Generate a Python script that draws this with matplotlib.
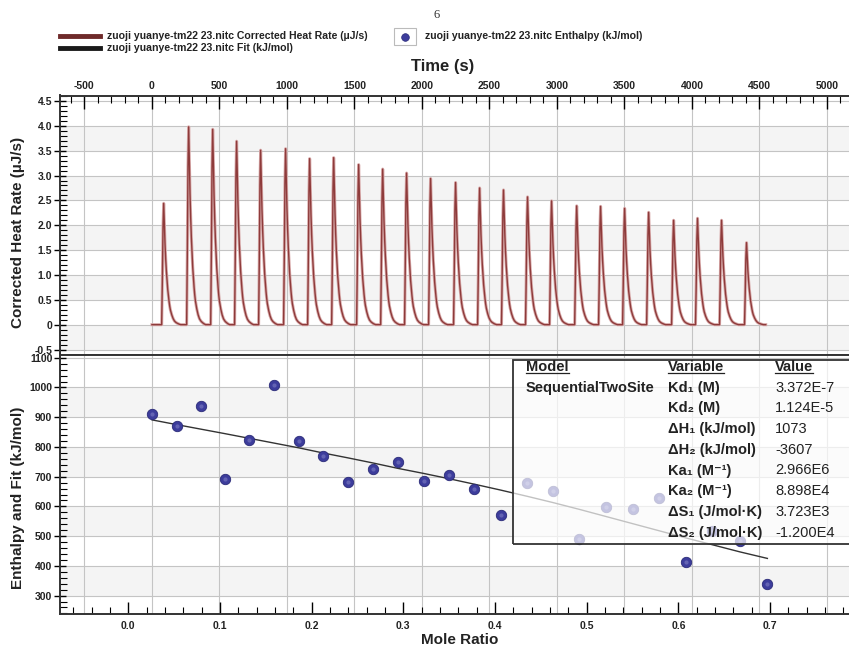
import numpy as np
import matplotlib
matplotlib.use("Agg")
import matplotlib.pyplot as plt
from matplotlib.lines import Line2D
from matplotlib.patches import Rectangle
from matplotlib.ticker import MultipleLocator, FuncFormatter
from matplotlib.transforms import blended_transform_factory

plt.rcParams['font.family'] = ['Liberation Sans', 'DejaVu Sans']
plt.rcParams['axes.unicode_minus'] = False

# --- data ---------------------------------------------------------------
# injection onsets (s) and peak heights (uJ/s) of the raw thermogram
inj_times = [72, 257, 435, 612, 790, 975, 1153, 1331, 1516, 1694, 1871, 2049,
             2234, 2412, 2589, 2767, 2945, 3131, 3308, 3486, 3664, 3849, 4026,
             4204, 4389]
peak_heights = [2.44, 3.98, 3.93, 3.69, 3.51, 3.54, 3.34, 3.36, 3.22, 3.13,
                3.05, 2.94, 2.86, 2.75, 2.71, 2.57, 2.49, 2.39, 2.38, 2.34,
                2.26, 2.10, 2.14, 2.10, 1.65]
# relative shape of one injection peak, sampled every 5 s from onset
peak_shape = [0, 0.35, 0.8, 1.0, 0.82, 0.66, 0.54, 0.44, 0.36, 0.29, 0.24,
              0.19, 0.15, 0.12, 0.1, 0.08, 0.065, 0.05, 0.04, 0.03, 0.024,
              0.019, 0.015, 0.012, 0.009, 0.006, 0.004, 0.002, 0]
shape_step = 5
trace_end = 4546

# integrated enthalpies and fit
mole_ratio = [0.026, 0.053, 0.079, 0.105, 0.132, 0.159, 0.186, 0.212, 0.240,
              0.267, 0.294, 0.322, 0.350, 0.377, 0.406, 0.435, 0.463, 0.492,
              0.521, 0.550, 0.579, 0.608, 0.637, 0.667, 0.697]
enthalpy = [911, 869, 938, 692, 824, 1010, 820, 769, 682, 726, 751, 684, 704,
            659, 572, 678, 651, 492, 597, 590, 628, 413, 518, 484, 338]
fit = [891, 875, 860, 845, 829, 813, 797, 780, 763, 746, 728, 711, 693, 675,
       655, 634, 613, 590, 566, 542, 518, 494, 471, 447, 425]

table_model = "SequentialTwoSite"
table_vars = ["Kd\u2081 (M)", "Kd\u2082 (M)", "\u0394H\u2081 (kJ/mol)",
              "\u0394H\u2082 (kJ/mol)", "Ka\u2081 (M\u207b\u00b9)",
              "Ka\u2082 (M\u207b\u00b9)", "\u0394S\u2081 (J/mol\u00b7K)",
              "\u0394S\u2082 (J/mol\u00b7K)"]
table_vals = ["3.372E-7", "1.124E-5", "1073", "-3607", "2.966E6", "8.898E4",
              "3.723E3", "-1.200E4"]

top_ticks = list(range(-500, 5001, 500))
mole_ticks = [0.0, 0.1, 0.2, 0.3, 0.4, 0.5, 0.6, 0.7]
rate_ticks = [-0.5, 0, 0.5, 1.0, 1.5, 2.0, 2.5, 3.0, 3.5, 4.0, 4.5]
dh_ticks = [300, 400, 500, 600, 700, 800, 900, 1000, 1100]

legend_name = "zuoji yuanye-tm22 23.nitc"

# --- build the thermogram polyline from the peak list --------------------
trace_t = [0]
trace_y = [0]
for t0, h in zip(inj_times, peak_heights):
    for k, s in enumerate(peak_shape):
        trace_t.append(t0 + k * shape_step)
        trace_y.append(h * s)
trace_t.append(trace_end)
trace_y.append(0)

W, H = 849, 650
fig = plt.figure(figsize=(W / 100, H / 100), dpi=100)

def fx(px):
    return px / W

def fy(py):
    return 1 - py / H

left = fx(60)
ax_t = fig.add_axes([left, fy(354.5), 1 - left, fy(95.5) - fy(354.5)])
ax_b = fig.add_axes([left, fy(614.3), 1 - left, fy(354.5) - fy(614.3)])

RED = '#8e3b3b'
BAND = '#f4f4f4'
GRID = '#c4c4c4'
TXT = '#222222'

# --- top panel -----------------------------------------------------------
ax_t.set_xlim(-681, 5163)
ax_t.set_ylim(-0.6, 4.61)
for lo in rate_ticks[:-1:2]:
    ax_t.axhspan(lo, lo + 0.5, color=BAND, zorder=0, lw=0)
for v in rate_ticks:
    ax_t.axhline(v, color=GRID, lw=0.8, zorder=1)
for t in top_ticks:
    ax_t.axvline(t, color=GRID, lw=0.8, zorder=1)
ax_t.plot(trace_t, trace_y, color='#d8aaaa', lw=2.2, zorder=2.5)
ax_t.plot(trace_t, trace_y, color=RED, lw=1.0, zorder=3)

ax_t.xaxis.tick_top()
ax_t.set_xticks(top_ticks)
ax_t.xaxis.set_minor_locator(MultipleLocator(100))
ax_t.set_yticks(rate_ticks)
ax_t.yaxis.set_minor_locator(MultipleLocator(0.1))
ax_t.yaxis.set_major_formatter(FuncFormatter(lambda v, p: '0' if abs(v) < 1e-9 else f'{v:.1f}'))

# --- bottom panel --------------------------------------------------------
ax_b.set_xlim(-0.0744, 0.786)
ax_b.set_ylim(237, 1111)
for lo in dh_ticks[:-1:2]:
    ax_b.axhspan(lo, lo + 100, color=BAND, zorder=0, lw=0)
for v in dh_ticks:
    ax_b.axhline(v, color=GRID, lw=0.8, zorder=1)
# vertical grid follows the time axis of the upper panel
vtrans = blended_transform_factory(ax_t.transData, ax_b.transAxes)
for t in top_ticks:
    ax_b.plot([t, t], [0, 1], transform=vtrans, color=GRID, lw=0.8, zorder=1)

ax_b.plot(mole_ratio, fit, color='#333333', lw=1.0, zorder=2)
ax_b.plot(mole_ratio, enthalpy, 'o', ms=7.5, color='#3d3d9c',
          mec='#2a2a78', mew=0.6, zorder=3)
ax_b.plot(mole_ratio, enthalpy, 'o', ms=3, color='#7d7dc4', mew=0, zorder=3.5,
          alpha=0.6)

ax_b.set_xticks(mole_ticks)
ax_b.xaxis.set_minor_locator(MultipleLocator(0.02))
ax_b.set_xticklabels([f'{v:.1f}' for v in mole_ticks])
ax_b.set_yticks(dh_ticks)
ax_b.yaxis.set_minor_locator(MultipleLocator(20))

for ax in (ax_t, ax_b):
    ax.spines['right'].set_visible(False)
    for side in ('left', 'top', 'bottom'):
        ax.spines[side].set_linewidth(1.4)
        ax.spines[side].set_color('#333333')
    ax.tick_params(axis='y', which='major', direction='inout', length=8,
                   width=1.0, pad=1.5, labelsize=7.5, labelcolor=TXT)
    ax.tick_params(axis='y', which='minor', direction='in', length=5, width=0.8)
    ax.tick_params(axis='x', which='major', direction='in', length=9, width=1.0,
                   labelsize=7.5, labelcolor=TXT)
    ax.tick_params(axis='x', which='minor', direction='in', length=5, width=0.8)
    for lab in ax.get_xticklabels() + ax.get_yticklabels():
        lab.set_fontweight('bold')

ax_t.tick_params(axis='x', which='both', top=True, bottom=False, pad=3)
ax_b.tick_params(axis='x', which='both', top=False, bottom=True, pad=5)

# --- table box -----------------------------------------------------------
box = Rectangle((fx(513), fy(544)), 0.6, fy(360) - fy(544), transform=fig.transFigure,
                facecolor='white', alpha=0.7, edgecolor='none', zorder=5)
ax_b.add_patch(box)
box.set_clip_on(False)
edge = Rectangle((fx(513), fy(544)), 0.6, fy(360) - fy(544), transform=fig.transFigure,
                 facecolor='none', edgecolor='#333333', lw=1.3, zorder=5.5)
ax_b.add_patch(edge)
edge.set_clip_on(False)

col_x = [fx(526), fx(668), fx(775)]
row0 = 367
row_step = 20.7
tfs = 10.5
heads = []
for cx, txt in zip(col_x, ["Model", "Variable", "Value"]):
    heads.append(fig.text(cx, fy(row0), txt, fontsize=tfs, fontweight='bold',
                          va='center', ha='left', color=TXT, zorder=6))
fig.text(col_x[0], fy(row0 + row_step), table_model, fontsize=tfs,
         fontweight='bold', va='center', ha='left', color=TXT, zorder=6)
for i, (vn, vv) in enumerate(zip(table_vars, table_vals)):
    y = fy(row0 + row_step * (i + 1))
    fig.text(col_x[1], y, vn, fontsize=tfs, fontweight='bold', va='center',
             ha='left', color=TXT, zorder=6)
    fig.text(col_x[2], y, vv, fontsize=tfs, va='center', ha='left',
             color=TXT, zorder=6)

renderer = fig.canvas.get_renderer()
for h in heads:
    bb = h.get_window_extent(renderer).transformed(fig.transFigure.inverted())
    fig.add_artist(Line2D([bb.x0, bb.x1], [bb.y0 + 0.002, bb.y0 + 0.002],
                          color=TXT, lw=0.9))

# --- axis titles ---------------------------------------------------------
fig.text(fx(443), fy(66), "Time (s)", fontsize=12, fontweight='bold',
         ha='center', va='center', color=TXT)
fig.text(fx(460), fy(640), "Mole Ratio", fontsize=11, fontweight='bold',
         ha='center', va='center', color=TXT)
fig.text(fx(18), fy(232), "Corrected Heat Rate (\u00b5J/s)", fontsize=11,
         fontweight='bold', rotation=90, ha='center', va='center', color=TXT)
fig.text(fx(18), fy(498), "Enthalpy and Fit (kJ/mol)", fontsize=11,
         fontweight='bold', rotation=90, ha='center', va='center', color=TXT)

# page number
fig.text(fx(437), fy(15), "6", fontsize=9, family='Liberation Serif',
         ha='center', va='center', color='#333333')

# --- legend (drawn by hand to match placement) --------------------------
lfs = 7.6
fig.add_artist(Line2D([fx(60), fx(100)], [fy(36), fy(36)], color='#6e2a2a', lw=3.5))
fig.add_artist(Line2D([fx(60), fx(100)], [fy(48), fy(48)], color='#1a1a1a', lw=3.5))
fig.text(fx(107), fy(36), f"{legend_name} Corrected Heat Rate (\u00b5J/s)",
         fontsize=lfs, fontweight='bold', va='center', color=TXT)
fig.text(fx(107), fy(48), f"{legend_name} Fit (kJ/mol)",
         fontsize=lfs, fontweight='bold', va='center', color=TXT)
fig.add_artist(Rectangle((fx(394), fy(45)), fx(22), fy(28) - fy(45),
                         transform=fig.transFigure, facecolor='white',
                         edgecolor='#bbbbbb', lw=0.8))
fig.add_artist(Line2D([fx(405)], [fy(36.5)], marker='o', ms=5.5, color='#3d3d9c',
                      mec='#2a2a78', mew=0.5, ls='none'))
fig.text(fx(425), fy(36), f"{legend_name} Enthalpy (kJ/mol)",
         fontsize=lfs, fontweight='bold', va='center', color=TXT)

fig.savefig("out.png", dpi=100)
